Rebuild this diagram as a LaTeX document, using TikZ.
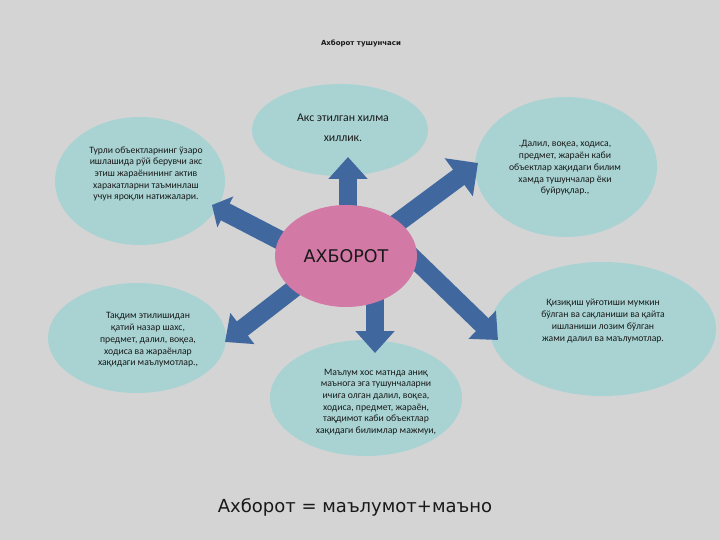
\documentclass[tikz,border=0pt]{standalone}
\usepackage{fontspec}
\setmainfont{DejaVu Sans}
\newfontfamily\carl{Carlito}
\usetikzlibrary{shapes.geometric,arrows.meta}
\definecolor{bgc}{RGB}{212,212,212}
\definecolor{teal1}{RGB}{168,211,210}
\definecolor{pinkc}{RGB}{211,121,166}
\definecolor{bluec}{RGB}{64,104,158}
\definecolor{txt}{RGB}{25,25,25}
\pgfdeclarelayer{back}\pgfdeclarelayer{bg}\pgfdeclarelayer{arr}
\pgfsetlayers{back,bg,arr,main}
\tikzset{
  oval/.style={ellipse,fill=teal1,draw=none,inner sep=0pt},
  lbl/.style={align=center,text=txt,font=\carl\fontsize{9.7}{11.7}\selectfont,inner sep=0pt},
  blk/.style={draw=bluec,line width=18pt,-{Triangle[width=38pt,length=22pt]},fill=bluec},
  blkbig/.style={draw=bluec,line width=19pt,-{Triangle[width=46pt,length=24pt]},fill=bluec},
  blksmall/.style={draw=bluec,line width=19pt,-{Triangle[width=34pt,length=15pt]},fill=bluec}
}
\begin{document}
\begin{tikzpicture}[x=1pt,y=-1pt]
\begin{pgfonlayer}{back}
\fill[bgc] (0,0) rectangle (720,540);
\end{pgfonlayer}
\useasboundingbox (0,0) rectangle (720,540);
\begin{pgfonlayer}{bg}
\node[oval,minimum width=176pt,minimum height=92pt] (eT) at (340,130) {};
\node[oval,minimum width=170pt,minimum height=128pt] (eTL) at (140,181) {};
\node[oval,minimum width=182pt,minimum height=140pt] (eTR) at (566,167) {};
\node[oval,minimum width=178pt,minimum height=110pt] (eBL) at (137,338) {};
\node[oval,minimum width=192pt,minimum height=116pt] (eB) at (366,398) {};
\node[oval,minimum width=226pt,minimum height=134pt] (eBR) at (603,329) {};
\end{pgfonlayer}
\node[ellipse,fill=pinkc,minimum width=142pt,minimum height=102pt,inner sep=0pt,
      font=\fontsize{17.5}{19}\selectfont,text=txt] (c) at (346,256) {АХБОРОТ};
% arrow coordinates
\coordinate (aU0) at (348,230);  \coordinate (aU) at (348,157);
\coordinate (aUR0) at (385,232); \coordinate (aUR) at (478,163);
\coordinate (aUL0) at (295,248); \coordinate (aUL) at (212,205);
\coordinate (aDR0) at (400,245); \coordinate (aDR) at (498,340);
\coordinate (aD0) at (375,285);  \coordinate (aD) at (375,353);
\coordinate (aDL0) at (305,280); \coordinate (aDL) at (225,342);
\begin{pgfonlayer}{arr}
\draw[blk] (aU0) -- (aU);
\draw[blkbig] (aUR0) -- (aUR);
\draw[blksmall] (aUL0) -- (aUL);
\draw[blk] (aDR0) -- (aDR);
\draw[blk] (aD0) -- (aD);
\draw[blk] (aDL0) -- (aDL);
\end{pgfonlayer}
% texts
\node[font=\bfseries\fontsize{7}{8}\selectfont,text=txt] (title) at (361,43) {Ахборот тушунчаси};
\node[lbl,font=\carl\fontsize{11.8}{20}\selectfont] (tT) at (343,128) {Акс этилган хилма\\хиллик.};
\node[lbl] (tTL) at (146,174) {Турли объектларнинг ўзаро\\ишлашида рўй берувчи акс\\этиш жараёнининг актив\\харакатларни таъминлаш\\учун яроқли натижалари.};
\node[lbl] (tTR) at (565,168) {.Далил, воқеа, ходиса,\\предмет, жараён каби\\объектлар хақидаги билим\\хамда тушунчалар ёки\\буйруқлар.,};
\node[lbl] (tBL) at (148,340) {Тақдим этилишидан\\қатий назар шахс,\\предмет, далил, воқеа,\\ходиса ва жараёнлар\\хақидаги маълумотлар.,};
\node[lbl] (tB) at (376,402) {Маълум хос матнда аниқ\\маънога эга тушунчаларни\\ичига олган далил, воқеа,\\ходиса, предмет, жараён,\\тақдимот каби объектлар\\хақидаги билимлар мажмуи,};
\node[lbl] (tBR) at (603,321) {Қизиқиш уйғотиши мумкин\\бўлган ва сақланиши ва қайта\\ишланиши лозим бўлган\\жами далил ва маълумотлар.};
\node[font=\fontsize{18}{20}\selectfont,text=txt] (formula) at (355,507) {Ахборот = маълумот+маъно};
\end{tikzpicture}
\end{document}
